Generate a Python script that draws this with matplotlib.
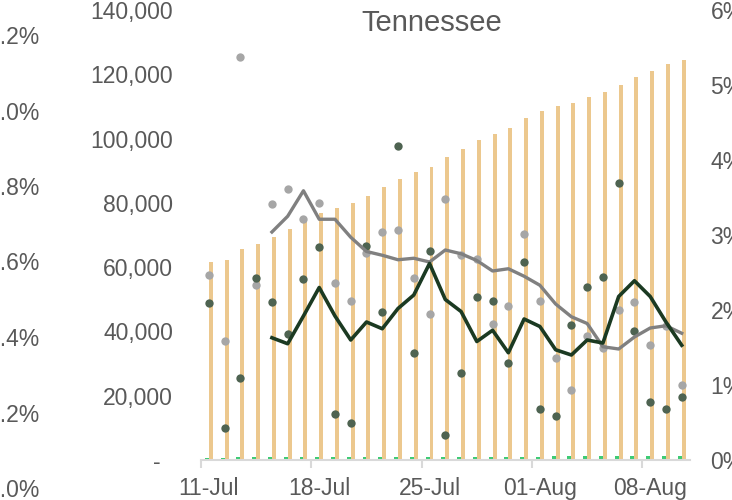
import matplotlib.pyplot as plt
import numpy as np
import pandas as pd

plt.rcParams['font.family'] = ['Liberation Sans', 'DejaVu Sans']

dates = pd.date_range('2020-07-11', '2020-08-10')
tick_labels = ['11-Jul', '18-Jul', '25-Jul', '01-Aug', '08-Aug']

# cumulative cases (left axis)
cases = [61600, 62300, 65600, 67100, 69400, 71900, 74400, 76700, 78500, 80000,
         82200, 84800, 87400, 89500, 91100, 94400, 96700, 99500, 101300, 103400,
         106400, 108700, 110100, 111100, 112900, 114600, 116800, 119200, 121000,
         123300, 124300]
# cumulative deaths (left axis, tiny)
deaths = [760, 775, 790, 800, 815, 830, 850, 865, 880, 890,
          905, 920, 935, 950, 965, 980, 995, 1010, 1030, 1045,
          1060, 1075, 1090, 1105, 1115, 1130, 1145, 1160, 1175, 1190, 1205]

# daily rates (right axis, %)
rate_a = [2.47, 1.59, 5.37, 2.34, 3.42, 3.61, 3.21, 3.43, 2.36, 2.12,
          2.76, 3.04, 3.07, 2.43, 1.95, 3.48, 2.73, 2.68, 1.82, 2.06,
          3.02, 2.12, 1.36, 0.94, 1.66, 1.49, 2.00, 2.11, 1.54, 1.79, 1.00]
rate_b = [2.10, 0.43, 1.10, 2.43, 2.11, 1.68, 2.41, 2.84, 0.62, 0.50,
          2.86, 1.97, 4.19, 1.43, 2.79, 0.33, 1.16, 2.17, 2.12, 1.30,
          2.64, 0.68, 0.59, 1.80, 2.31, 2.44, 3.70, 1.72, 0.77, 0.68, 0.84]
# 7-day averages, from 15-Jul
avg_a = [3.04, 3.25, 3.59, 3.21, 3.21, 2.97, 2.78, 2.73, 2.67, 2.69,
         2.64, 2.80, 2.75, 2.66, 2.52, 2.55, 2.45, 2.33, 2.08, 1.91,
         1.82, 1.51, 1.48, 1.64, 1.76, 1.79, 1.69]
avg_b = [1.63, 1.55, 1.92, 2.30, 1.92, 1.60, 1.84, 1.75, 2.02, 2.20,
         2.62, 2.14, 1.98, 1.58, 1.73, 1.43, 1.88, 1.78, 1.47, 1.40,
         1.60, 1.56, 2.18, 2.39, 2.18, 1.84, 1.53]

left_ticks = [0, 20000, 40000, 60000, 80000, 100000, 120000, 140000]
left_labels = ['-  ', '20,000', '40,000', '60,000', '80,000', '100,000', '120,000', '140,000']
right_ticks = [0, 1, 2, 3, 4, 5, 6]
right_labels = ['0%', '1%', '2%', '3%', '4%', '5%', '6%']
outer_ticks = [0, 0.2, 0.4, 0.6, 0.8, 1.0, 1.2]
outer_labels = ['0.0%', '0.2%', '0.4%', '0.6%', '0.8%', '1.0%', '1.2%']

txt = '#595959'
fs = 16.5
x = np.arange(len(dates))

fig = plt.figure(figsize=(7.32, 5.0), dpi=100)

# outer left axis (partly off the canvas)
ax3 = fig.add_axes([45 / 732, 12 / 500, 0.01, 453 / 500])
ax3.set_ylim(0, 1.2)
ax3.set_yticks(outer_ticks)
ax3.set_yticklabels(outer_labels)
ax3.tick_params(axis='y', length=0, pad=4, labelsize=fs, labelcolor=txt)
ax3.set_xticks([])
for s in ax3.spines.values():
    s.set_visible(False)
ax3.patch.set_visible(False)

ax = fig.add_axes([201 / 732, 40 / 500, 488.6 / 732, 450 / 500])
ax.bar(x - 0.125, deaths, width=0.25, color='#3DCB74', zorder=2)
ax.bar(x + 0.125, cases, width=0.25, color='#ECC88E', zorder=2)
ax.set_xlim(-0.5, 30.5)
ax.set_ylim(0, 140000)
ax.set_yticks(left_ticks)
ax.set_yticklabels(left_labels)
ax.tick_params(axis='y', length=0, pad=20, labelsize=fs, labelcolor=txt)
ax.set_xticks([0, 7, 14, 21, 28])
ax.set_xticklabels(tick_labels)
ax.set_xticks([-0.5, 6.5, 13.5, 20.5, 27.5], minor=True)
ax.tick_params(axis='x', which='major', length=0, pad=12, labelsize=fs, labelcolor=txt)
ax.tick_params(axis='x', which='minor', length=6, width=1.5, color='#D9D9D9')
for k in ['top', 'left', 'right']:
    ax.spines[k].set_visible(False)
ax.spines['bottom'].set_color('#D9D9D9')
ax.spines['bottom'].set_linewidth(1.5)

ax2 = ax.twinx()
ax2.scatter(x, rate_a, s=36, color='#A6A6A6', zorder=3, linewidths=0)
ax2.scatter(x, rate_b, s=36, color='#4E6351', zorder=3, linewidths=0)
ax2.plot(x[4:], avg_a, color='#808080', lw=2.4, zorder=4)
ax2.plot(x[4:], avg_b, color='#1B3A22', lw=2.6, zorder=5)
ax2.set_ylim(0, 6)
ax2.set_yticks(right_ticks)
ax2.set_yticklabels(right_labels)
ax2.tick_params(axis='y', length=0, pad=15, labelsize=fs, labelcolor=txt)
for s in ax2.spines.values():
    s.set_visible(False)

fig.text(432 / 732, 1 - 23 / 500, 'Tennessee', ha='center', va='center',
         fontsize=21, color=txt)

fig.savefig('out.png', dpi=100)
